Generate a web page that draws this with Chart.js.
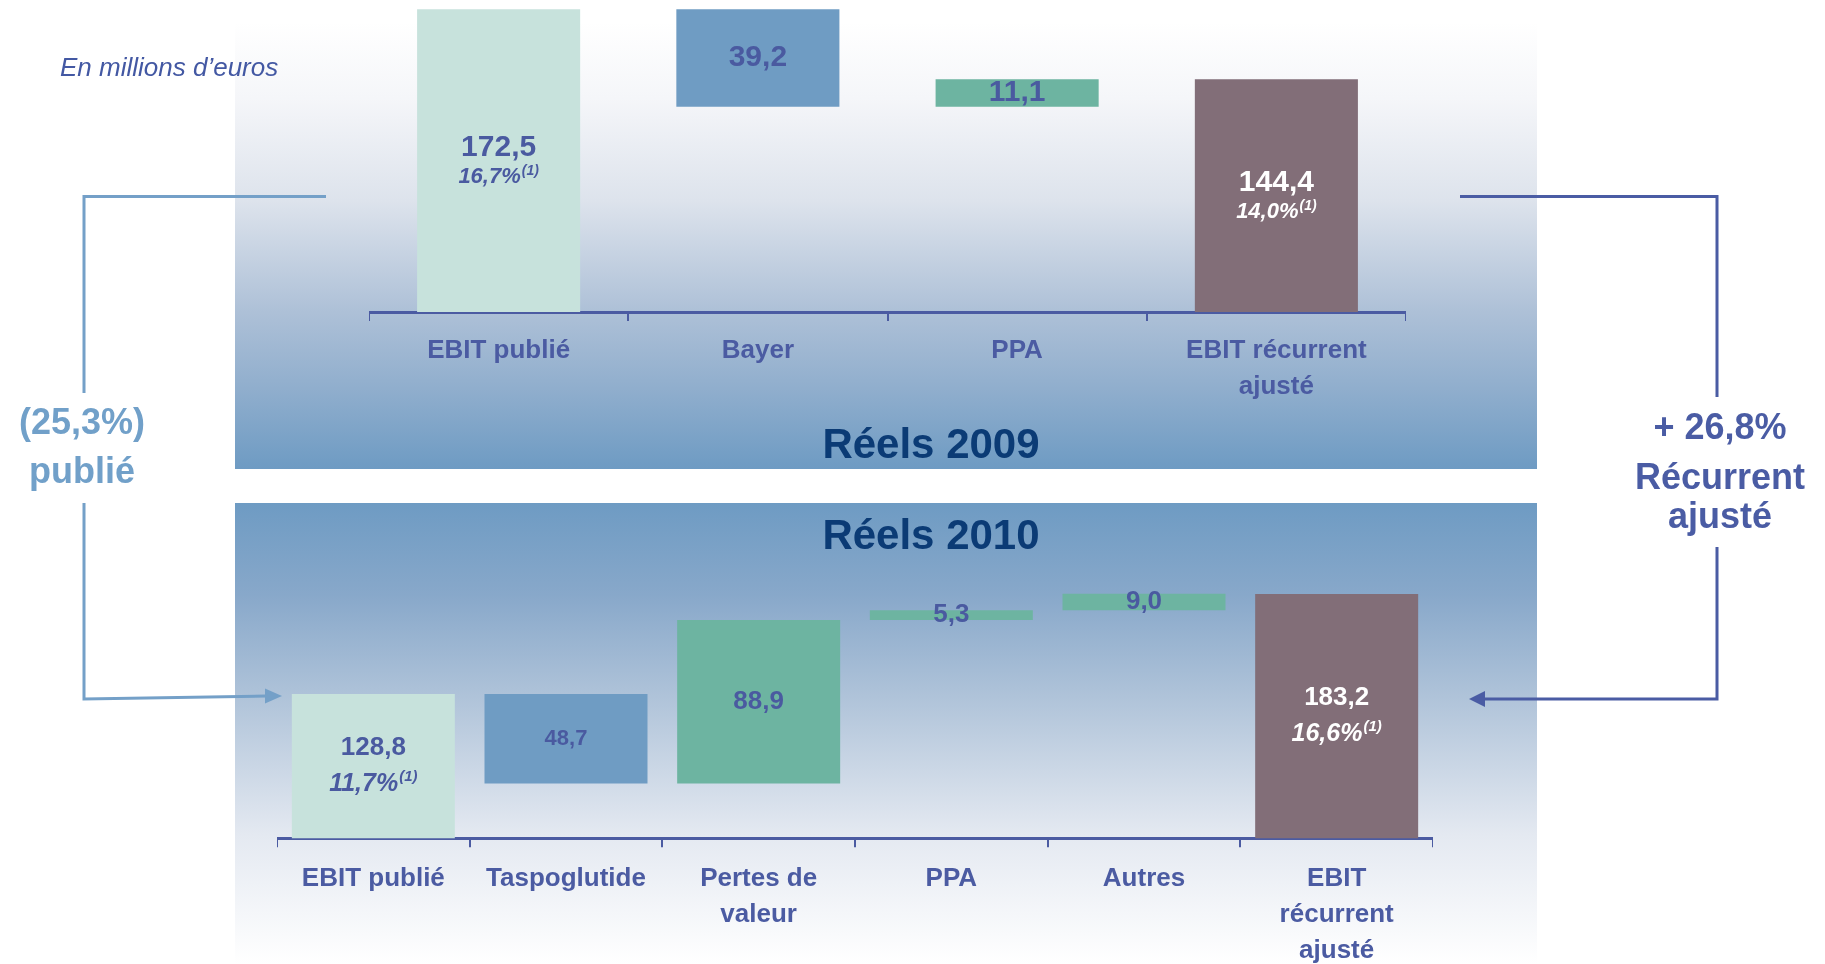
<!DOCTYPE html>
<html lang="fr">
<head>
<meta charset="utf-8">
<title>EBIT publié / EBIT récurrent ajusté 2009-2010</title>
<script src="https://cdn.jsdelivr.net/npm/chart.js@4.4.1/dist/chart.umd.min.js"></script>
<style>
  html, body { margin: 0; padding: 0; background: #fff; }
  #page { position: relative; width: 1825px; height: 964px; overflow: hidden; font-family: "Liberation Sans", Arial, sans-serif; }
  .panel { position: absolute; left: 235px; width: 1302px; }
  #panelTop { top: 22px; height: 447px;
    background: linear-gradient(to bottom, #ffffff 0%, #f5f6f9 17%, #dde3ec 40%, #adc0d7 65%, #90aecd 82%, #6e9bc3 100%); }
  #panelBottom { top: 503px; height: 461px;
    background: linear-gradient(to bottom, #6e9bc3 0%, #88a8ca 20%, #afc3d9 42%, #e4e9f1 72%, #ffffff 100%); }
  canvas { position: absolute; }
  #overlay { position: absolute; left: 0; top: 0; }
  #overlay text { font-family: "Liberation Sans", Arial, sans-serif; font-weight: bold; }
</style>
</head>
<body>
<div id="page">
  <div class="panel" id="panelTop"></div>
  <div class="panel" id="panelBottom"></div>
  <canvas id="chart2009" width="1037" height="400" style="left:369px;top:0px"></canvas>
  <canvas id="chart2010" width="1156" height="404" style="left:277px;top:560px"></canvas>

  <svg id="overlay" width="1825" height="964">
    <!-- publié : 2009 -> 2010 -->
    <g fill="none" stroke="#74a0c8" stroke-width="3">
      <polyline points="326,196.5 84,196.5 84,393"/>
      <polyline points="84,503 84,699 266,696"/>
    </g>
    <polygon points="282,696 265,688.5 265,703.5" fill="#74a0c8"/>
    <!-- récurrent ajusté : 2009 -> 2010 -->
    <g fill="none" stroke="#4a5ca4" stroke-width="3">
      <polyline points="1460,196.5 1717,196.5 1717,397"/>
      <polyline points="1717,547 1717,699 1484,699"/>
    </g>
    <polygon points="1469,699 1485,691 1485,707" fill="#4a5ca4"/>

    <text x="60" y="76" font-size="26" fill="#4358a3" style="font-weight:normal;font-style:italic">En millions d’euros</text>
    <text x="931" y="458" font-size="42" fill="#0b3b75" text-anchor="middle">Réels 2009</text>
    <text x="931" y="549" font-size="42" fill="#0b3b75" text-anchor="middle">Réels 2010</text>

    <text x="82" y="434" font-size="36" fill="#71a0c9" text-anchor="middle">(25,3%)</text>
    <text x="82" y="483" font-size="36" fill="#71a0c9" text-anchor="middle">publié</text>

    <text x="1720" y="439" font-size="36" fill="#4a5ca4" text-anchor="middle">+ 26,8%</text>
    <text x="1720" y="489" font-size="36" fill="#4a5ca4" text-anchor="middle">Récurrent</text>
    <text x="1720" y="528" font-size="36" fill="#4a5ca4" text-anchor="middle">ajusté</text>
  </svg>
</div>

<script>
// Réels 2009
const cats2009 = ['EBIT publié', 'Bayer', 'PPA', ['EBIT récurrent', 'ajusté']];
const values2009 = [172.5, -39.2, 11.1, 144.4];
const totals2009 = [true, false, false, true];
const margins2009 = ['16,7%', '', '', '14,0%'];

// Réels 2010
const cats2010 = ['EBIT publié', 'Taspoglutide', ['Pertes de', 'valeur'], 'PPA', 'Autres', ['EBIT', 'récurrent', 'ajusté']];
const values2010 = [128.8, -48.7, 88.9, 5.3, 9.0, 183.2];
const totals2010 = [true, false, false, false, false, true];
const margins2010 = ['11,7%', '', '', '', '', '16,6%'];

const axisBlue = '#4b5ba2';
const labelBlue = '#4a5aa0';

// totals start from the axis, the other bars float from the running total
function waterfall(values, totals) {
    let run = 0;
    return values.map((v, i) => {
        if (totals[i]) { run = v; return v; }
        const start = run;
        run += v;
        return [start, run];
    });
}

const fmt = v => Math.abs(v).toFixed(1).replace('.', ',');

function barLabels(cfg) {
    return {
        id: 'barLabels',
        afterDatasetsDraw(chart) {
            const ctx = chart.ctx;
            const meta = chart.getDatasetMeta(0);
            const bottom = chart.chartArea.bottom;
            meta.data.forEach((bar, i) => {
                // totals are cut at the axis, so use the visible part
                const mid = (Math.min(bar.y, bottom) + Math.min(bar.base, bottom)) / 2;
                ctx.save();
                ctx.fillStyle = cfg.colors[i];
                ctx.textBaseline = 'middle';
                ctx.textAlign = 'center';
                const text = fmt(cfg.values[i]);
                if (cfg.margins[i]) {
                    ctx.font = 'bold ' + cfg.valueSize + 'px "Liberation Sans", Arial';
                    ctx.fillText(text, bar.x, mid + cfg.valueShift);
                    ctx.font = 'italic bold ' + cfg.marginSize + 'px "Liberation Sans", Arial';
                    const w = ctx.measureText(cfg.margins[i]).width;
                    ctx.font = 'italic bold ' + cfg.supSize + 'px "Liberation Sans", Arial';
                    const ws = ctx.measureText('(1)').width;
                    const x0 = bar.x - (w + ws + 1) / 2;
                    ctx.textAlign = 'left';
                    ctx.font = 'italic bold ' + cfg.marginSize + 'px "Liberation Sans", Arial';
                    ctx.fillText(cfg.margins[i], x0, mid + cfg.marginShift);
                    ctx.font = 'italic bold ' + cfg.supSize + 'px "Liberation Sans", Arial';
                    ctx.fillText('(1)', x0 + w + 1, mid + cfg.marginShift - cfg.supRaise);
                } else {
                    ctx.font = 'bold ' + cfg.deltaSizes[i] + 'px "Liberation Sans", Arial';
                    ctx.fillText(text, bar.x, mid);
                }
                ctx.restore();
            });
        }
    };
}

function makeChart(id, cats, data, colors, opts) {
    return new Chart(document.getElementById(id), {
        type: 'bar',
        data: {
            labels: cats,
            datasets: [{
                data: data,
                backgroundColor: colors,
                borderWidth: 0,
                barPercentage: opts.barPct,
                categoryPercentage: 1
            }]
        },
        options: {
            responsive: false,
            animation: false,
            layout: { padding: 0 },
            plugins: { legend: { display: false }, tooltip: { enabled: false } },
            scales: {
                y: { display: false, min: opts.min, max: opts.max },
                x: {
                    grid: { drawOnChartArea: false, drawTicks: true, tickLength: 9, color: axisBlue, lineWidth: 2 },
                    border: { display: true, color: axisBlue, width: 3 },
                    ticks: {
                        color: axisBlue,
                        autoSkip: false,
                        maxRotation: 0,
                        padding: opts.tickPad,
                        font: { family: 'Liberation Sans', weight: 'bold', size: 26, lineHeight: 36 / 26 }
                    },
                    afterFit: axis => { axis.height = opts.axisHeight; }
                }
            }
        },
        plugins: [barLabels(opts.labels)]
    });
}

makeChart('chart2009', cats2009, waterfall(values2009, totals2009),
    ['#c7e2dc', '#6f9cc3', '#6db4a1', '#826e78'], {
        barPct: 0.629, min: 50.9, max: 176.2, axisHeight: 88, tickPad: 12,
        labels: {
            values: values2009, margins: margins2009,
            colors: [labelBlue, labelBlue, labelBlue, '#ffffff'],
            valueSize: 30, marginSize: 22, supSize: 14, supRaise: 6,
            valueShift: -13, marginShift: 16.5, deltaSizes: [30, 30, 30, 30]
        }
    });

makeChart('chart2010', cats2010, waterfall(values2010, totals2010),
    ['#c7e2dc', '#6f9cc3', '#6db4a1', '#6db4a1', '#6db4a1', '#826e78'], {
        barPct: 0.846, min: 50.3, max: 201.7, axisHeight: 125.7, tickPad: 14,
        labels: {
            values: values2010, margins: margins2010,
            colors: [labelBlue, labelBlue, labelBlue, labelBlue, labelBlue, '#ffffff'],
            valueSize: 26, marginSize: 25, supSize: 15, supRaise: 7,
            valueShift: -18, marginShift: 18, deltaSizes: [26, 22, 26, 26, 26, 26]
        }
    });
</script>
</body>
</html>
